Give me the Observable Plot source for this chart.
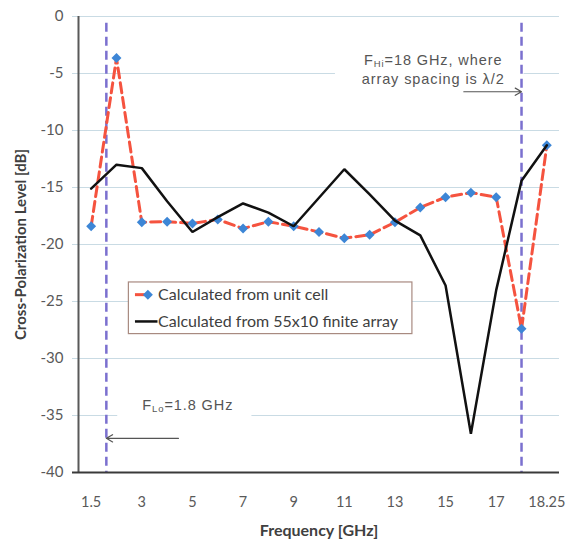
<!DOCTYPE html>
<html><head><meta charset="utf-8">
<script src="https://cdn.jsdelivr.net/npm/d3@7"></script>
<script src="https://cdn.jsdelivr.net/npm/@observablehq/plot@0.6"></script>
<style>
html,body{margin:0;padding:0;background:#fff;}
#chart svg{display:block;}
</style></head><body><div id="chart"></div>
<script>
// Category frequencies (GHz) – the x axis is categorical (Excel line chart)
const freqs = [1.5, 2, 3, 4, 5, 6, 7, 8, 9, 10, 11, 12, 13, 14, 15, 16, 17, 18, 18.25];
// Cross-polarization level (dB)
const unitCell    = [-18.4, -3.65, -18.05, -18.0, -18.15, -17.8, -18.6, -18.0, -18.4, -18.9, -19.45, -19.15, -18.05, -16.75, -15.85, -15.45, -15.85, -27.4, -11.3];
const finiteArray = [-15.1, -13.0, -13.3, -16.2, -18.9, -17.6, -16.4, -17.2, -18.4, -15.9, -13.4, -15.6, -17.9, -19.2, -23.6, -36.6, -24.0, -14.4, -11.3];
const seriesNames = ["Calculated from unit cell", "Calculated from 55x10 finite array"];
const yTicks = [0, -5, -10, -15, -20, -25, -30, -35, -40];
const fLo = 1.8, fHi = 18;
const loLabel = "F|Lo|=1.8 GHz";
const hiLabel1 = "F|Hi|=18 GHz, where";
const hiLabel2 = "array spacing is λ/2";

// map frequency -> category index (piecewise linear between categories)
const idxOf = d3.scaleLinear().domain(freqs).range(freqs.map((_, i) => i));
const unitData = freqs.map((f, i) => ({i, f, v: unitCell[i]}));
const arrData = freqs.map((f, i) => ({i, f, v: finiteArray[i]}));
const xTicks = freqs.map((_, i) => i).filter(i => i % 2 === 0);

// layout (in data units) for legend and annotation boxes
const legendBox = {x1: 1.49, x2: 12.69, y1: -23.33, y2: -27.86};
const legendRows = [{name: seriesNames[0], y: -24.4}, {name: seriesNames[1], y: -26.75}];
const loBox = {x1: 1.05, x2: 6.35, y1: -33.2, y2: -35.7};
const hiBox = {x1: 9.65, x2: 17.1, y1: -2.6, y2: -7.2};

const purple = "#7b70cf", red = "#f5533f", blue = "#3d86d6";
const annFont = "'Liberation Sans', Arial, sans-serif";

const plot = Plot.plot({
  width: 569, height: 541,
  marginLeft: 78, marginRight: 10, marginTop: 16, marginBottom: 69,
  style: {fontFamily: "Lato, sans-serif", background: "#fff"},
  x: {domain: [-0.5, 18.5]},
  y: {domain: [-40, 0]},
  marks: [
    Plot.ruleY(yTicks.filter(d => d > -40), {stroke: "#c9dbe4", strokeWidth: 1, insetLeft: -6}),
    Plot.rect([loBox, hiBox], {x1: "x1", x2: "x2", y1: "y1", y2: "y2", fill: "#fff"}),
    Plot.ruleX([fLo, fHi], {x: d => idxOf(d), y1: -0.6, y2: -40, stroke: purple, strokeWidth: 2.5, strokeDasharray: "9,5"}),
    Plot.ruleX([-0.5], {stroke: "#595959", strokeWidth: 2}),
    Plot.ruleY([-40], {stroke: "#3a3a3a", strokeWidth: 2, insetLeft: -6}),
    Plot.line(unitData, {x: "i", y: "v", stroke: red, strokeWidth: 3, strokeDasharray: "10,5"}),
    Plot.dot(unitData, {x: "i", y: "v", symbol: "diamond2", r: 4.5, fill: blue, stroke: "none"}),
    Plot.line(arrData, {x: "i", y: "v", stroke: "#111", strokeWidth: 2.5, strokeLinejoin: "miter"}),
    // legend
    Plot.rect([legendBox], {x1: "x1", x2: "x2", y1: "y1", y2: "y2", fill: "#fff", stroke: "#a88a80", strokeWidth: 1.2}),
    Plot.ruleY([legendRows[0]], {y: "y", x1: 1.75, x2: 2.24, stroke: red, strokeWidth: 3}),
    Plot.dot([legendRows[0]], {y: "y", x: 2.24, symbol: "diamond2", r: 4.5, fill: blue}),
    Plot.ruleY([legendRows[1]], {y: "y", x1: 1.75, x2: 2.64, stroke: "#111", strokeWidth: 2.5}),
    Plot.text(legendRows, {x: 2.64, y: "y", text: "name", textAnchor: "start", fontSize: 16, fill: "#404040"}),
    // annotations
    Plot.text([loLabel], {x: 2.02, y: -34.15, text: d => d, textAnchor: "start", fontSize: 14.5, fill: "#555", fontFamily: annFont}),
    Plot.text([hiLabel1], {x: 13.51, y: -3.85, text: d => d, textAnchor: "middle", fontSize: 14.5, fill: "#555", fontFamily: annFont}),
    Plot.text([hiLabel2], {x: 13.51, y: -5.5, text: d => d, textAnchor: "middle", fontSize: 14.5, fill: "#555", fontFamily: annFont}),
    Plot.arrow([{x1: 3.45, x2: idxOf(fLo), y: -37.0}], {x1: "x1", x2: "x2", y1: "y", y2: "y", stroke: "#555", strokeWidth: 1.2, headLength: 9, bend: 0}),
    Plot.arrow([{x1: 14.72, x2: idxOf(fHi), y: -6.6}], {x1: "x1", x2: "x2", y1: "y", y2: "y", stroke: "#555", strokeWidth: 1.2, headLength: 9, bend: 0}),
    // axes
    Plot.axisX(xTicks, {tickFormat: i => String(freqs[i]), tickSize: 0, tickPadding: 24, fontSize: 14.5, color: "#595959", label: null}),
    Plot.axisY(yTicks, {tickFormat: d => String(d), tickSize: 0, tickPadding: 15, fontSize: 15, color: "#595959", label: null}),
    Plot.text(["Frequency [GHz]"], {text: d => d, frameAnchor: "bottom", lineAnchor: "middle", dy: 58, fontWeight: "bold", fontSize: 16, fill: "#404040"}),
    Plot.text(["Cross-Polarization Level [dB]"], {text: d => d, frameAnchor: "left", textAnchor: "middle", lineAnchor: "middle", rotate: -90, dx: -57, fontWeight: "bold", fontSize: 15, fill: "#404040"})
  ]
});

// subscripts for F_Lo and F_Hi, and Excel-like letter spacing for annotations
d3.select(plot).selectAll("text").each(function() {
  const t = this.textContent;
  const isAnn = t.includes("|") || t === hiLabel2;
  if (isAnn) d3.select(this).attr("letter-spacing", 0.9);
  if (t.includes("|") && this.children.length === 0) {
    const parts = t.split("|");
    const sel = d3.select(this);
    sel.text(null);
    sel.append("tspan").text(parts[0]);
    sel.append("tspan").attr("font-size", 9.5).attr("dy", 2).text(parts[1]);
    sel.append("tspan").attr("dy", -2).text(parts[2]);
  }
});

document.getElementById("chart").appendChild(plot);
</script>
</body></html>
